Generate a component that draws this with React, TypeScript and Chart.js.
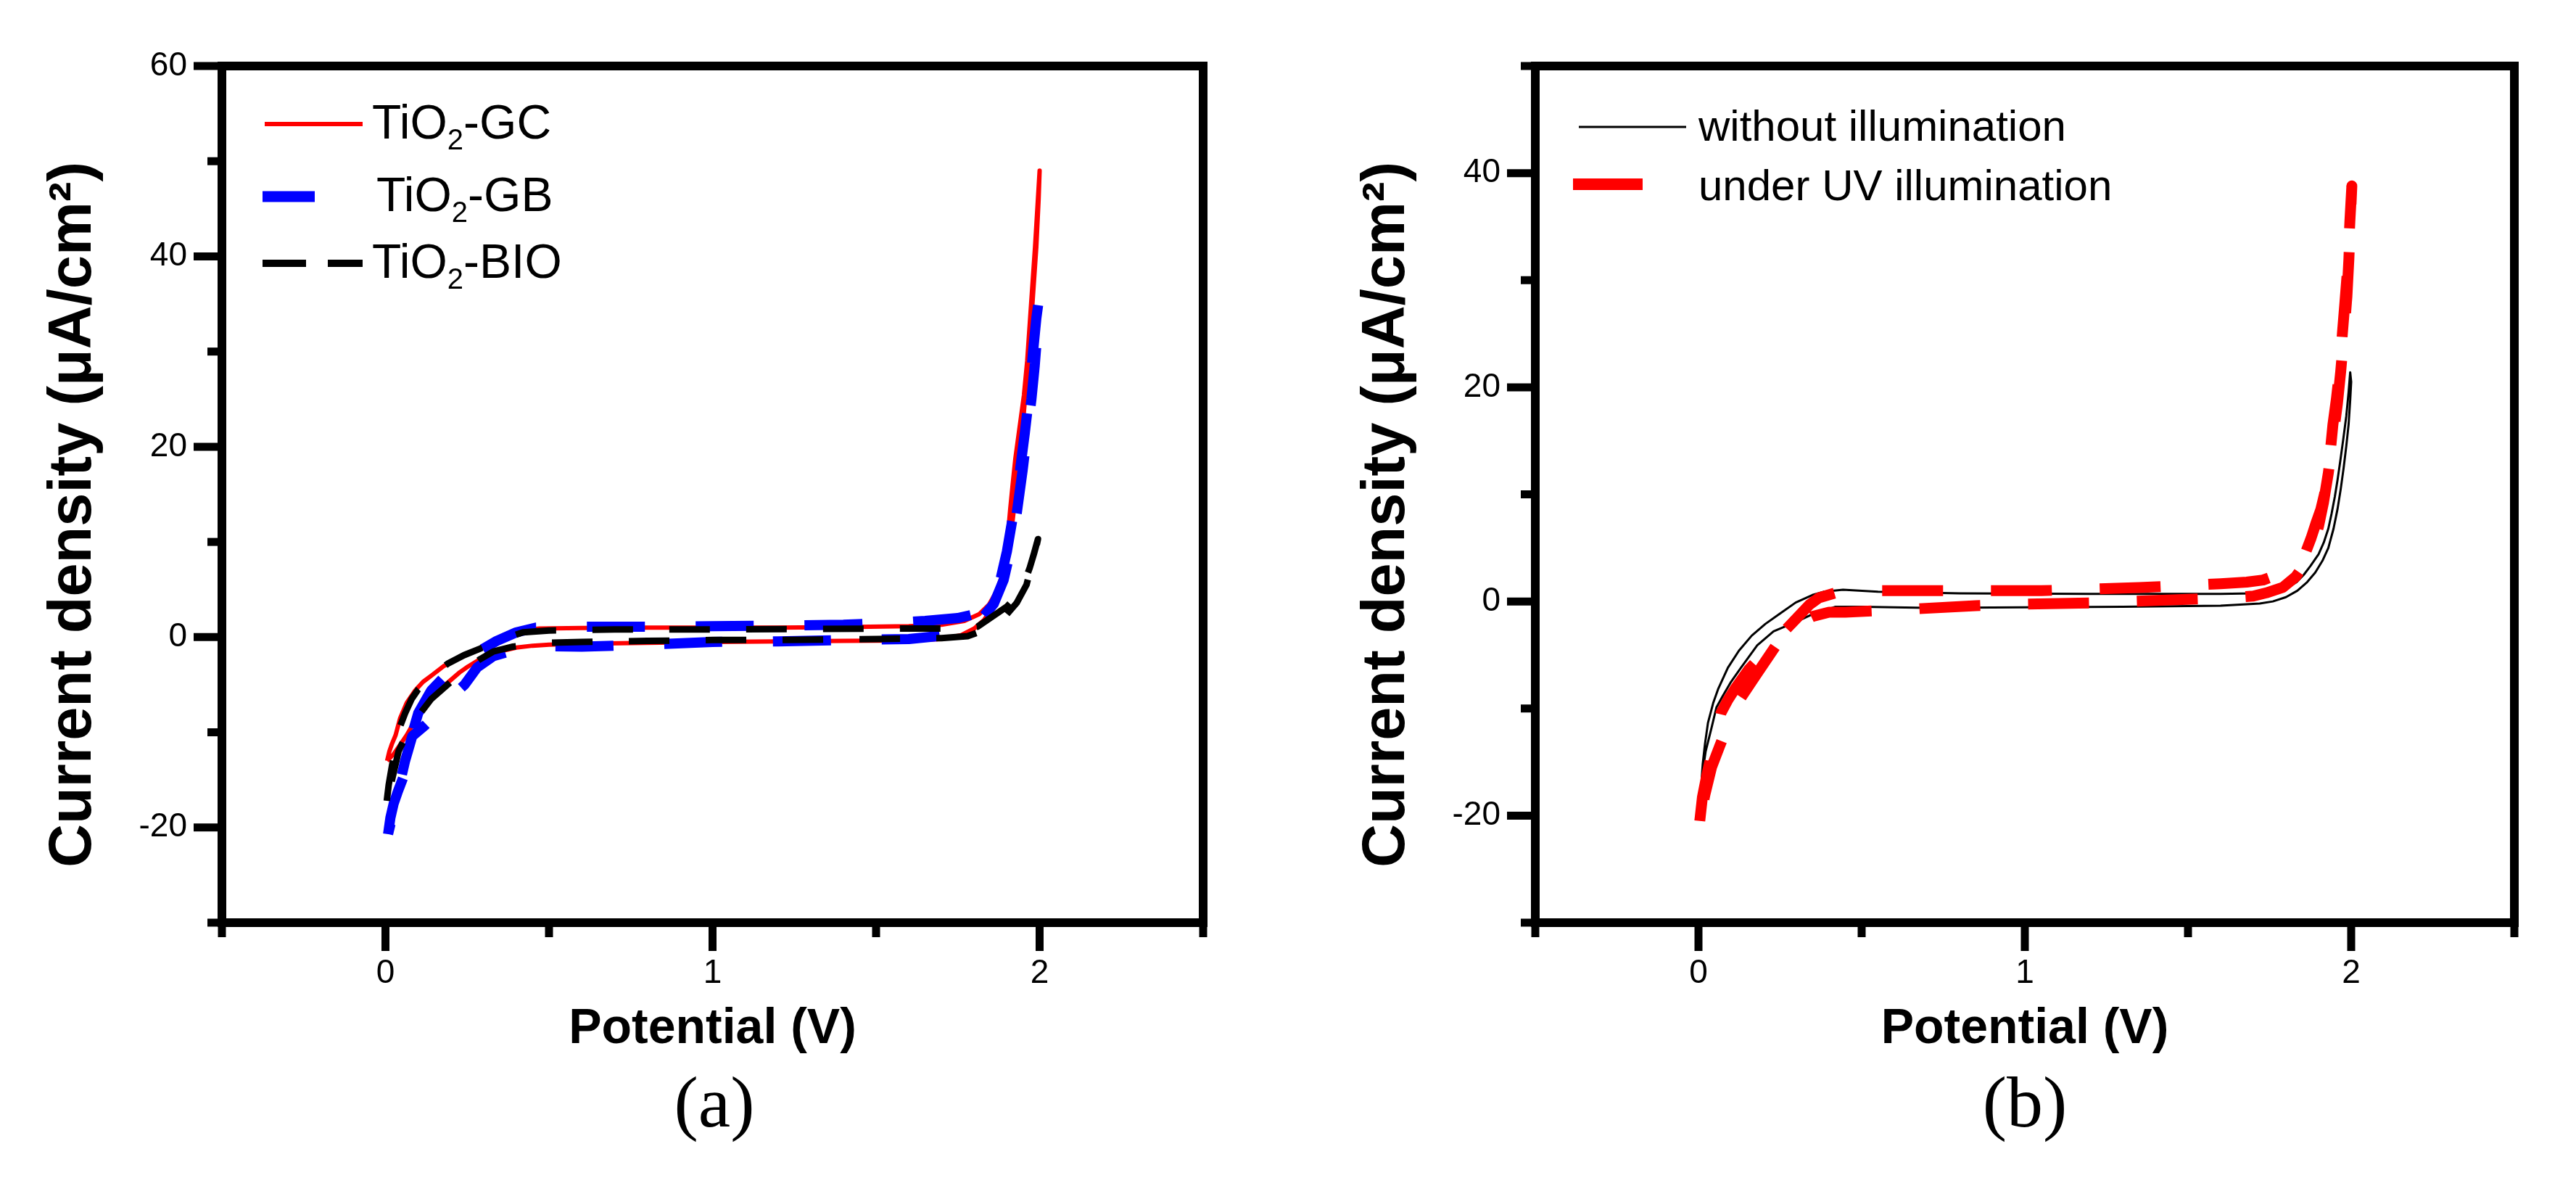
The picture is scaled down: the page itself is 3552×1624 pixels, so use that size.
import React, { useEffect, useRef } from 'react';
import { Chart, registerables } from 'chart.js';

Chart.register(...registerables);

// ---------------- data ----------------
// Panel (a): TiO2-GC (red, solid)
const gcV = [0.005, 0.012, 0.02, 0.031, 0.045, 0.065, 0.091, 0.115, 0.142, 0.18, 0.227, 0.27, 0.31, 0.36, 0.413, 0.47, 0.6, 0.8, 1.0, 1.2, 1.4, 1.6, 1.7, 1.77, 1.815, 1.845, 1.87, 1.888, 1.9, 1.91, 1.918, 1.926, 1.937, 1.952, 1.962, 1.97, 1.978, 1.986, 1.993, 2.0,
  1.997, 1.99, 1.98, 1.97, 1.958, 1.945, 1.93, 1.915, 1.9, 1.88, 1.86, 1.83, 1.8, 1.76, 1.7, 1.6, 1.4, 1.2, 1.0, 0.8, 0.6, 0.5, 0.45, 0.4, 0.35, 0.3, 0.252, 0.227, 0.2, 0.159, 0.13, 0.1, 0.065, 0.045, 0.025, 0.005];
const gcJ = [-13.0, -12.0, -11.2, -10.3, -8.5, -6.9, -5.6, -4.7, -4.0, -3.0, -2.2, -1.5, -0.8, 0.0, 0.7, 0.9, 0.95, 1.0, 1.0, 1.0, 1.05, 1.15, 1.3, 1.7, 2.4, 3.4, 4.9, 6.8, 9.5, 13.4, 16.2, 18.8, 21.6, 25.4, 29.0, 33.0, 37.0, 41.0, 45.0, 49.0,
  46.0, 41.0, 36.0, 31.0, 26.0, 21.0, 16.0, 11.5, 8.0, 5.0, 3.3, 1.8, 0.9, 0.2, -0.2, -0.35, -0.4, -0.45, -0.5, -0.6, -0.7, -0.8, -0.9, -1.1, -1.5, -2.1, -3.1, -3.7, -4.5, -5.7, -6.6, -8.2, -10.3, -11.3, -12.3, -13.0];

// Panel (a): TiO2-GB (blue, dashed)
const gbV = [0.008, 0.015, 0.025, 0.038, 0.057, 0.075, 0.1, 0.14, 0.19, 0.24, 0.29, 0.34, 0.4, 0.46, 0.6, 0.8, 1.0, 1.2, 1.4, 1.55, 1.65, 1.75, 1.8, 1.85, 1.88, 1.9, 1.92, 1.94, 1.955, 1.97, 1.98, 1.99, 1.997,
  1.993, 1.985, 1.975, 1.962, 1.948, 1.93, 1.91, 1.89, 1.86, 1.82, 1.78, 1.72, 1.6, 1.4, 1.2, 1.0, 0.8, 0.6, 0.5, 0.4, 0.33, 0.28, 0.242, 0.21, 0.16, 0.12, 0.082, 0.06, 0.04, 0.02, 0.008];
const gbJ = [-20.7, -19.0, -17.5, -16.2, -14.5, -11.0, -8.0, -5.6, -3.8, -2.5, -1.4, -0.4, 0.5, 1.0, 1.1, 1.1, 1.15, 1.2, 1.3, 1.5, 1.7, 2.0, 2.4, 3.5, 6.0, 9.0, 13.0, 17.5, 21.5, 26.0, 30.0, 33.5, 35.3,
  32.0, 28.5, 25.0, 21.5, 17.5, 13.0, 9.0, 6.0, 3.5, 1.8, 0.8, 0.2, -0.2, -0.3, -0.45, -0.5, -0.8, -1.0, -0.95, -1.3, -2.0, -3.2, -5.0, -6.0, -8.0, -9.3, -10.4, -13.0, -16.0, -19.0, -20.7];

// Panel (a): TiO2-BIO (black, dashed)
const bioV = [0.004, 0.01, 0.02, 0.03, 0.04, 0.06, 0.08, 0.1, 0.15, 0.19, 0.24, 0.29, 0.35, 0.42, 0.5, 0.7, 1.0, 1.3, 1.5, 1.65, 1.75, 1.81, 1.853, 1.9, 1.927, 1.955, 1.97, 1.983, 1.995,
  1.99, 1.975, 1.96, 1.93, 1.9, 1.86, 1.82, 1.78, 1.7, 1.5, 1.2, 1.0, 0.8, 0.6, 0.5, 0.39, 0.33, 0.29, 0.24, 0.19, 0.14, 0.1, 0.07, 0.04, 0.02, 0.004];
const bioJ = [-17.2, -15.5, -13.5, -11.8, -9.8, -8.0, -6.5, -5.5, -3.8, -2.8, -1.9, -1.2, -0.3, 0.5, 0.7, 0.8, 0.8, 0.85, 0.9, 0.9, 0.9, 1.1, 2.1, 3.2, 4.2, 5.9, 7.3, 8.8, 10.3,
  9.5, 7.5, 5.5, 3.6, 2.4, 1.4, 0.6, 0.1, -0.1, -0.2, -0.3, -0.3, -0.4, -0.5, -0.6, -1.0, -1.5, -2.3, -3.5, -5.0, -6.5, -8.3, -9.8, -12.0, -15.0, -17.2];

// Panel (b): without illumination (black, thin solid)
const darkV = [0.01, 0.013, 0.02, 0.029, 0.045, 0.06, 0.09, 0.124, 0.163, 0.205, 0.247, 0.298, 0.349, 0.383, 0.443, 0.55, 0.8, 1.2, 1.6, 1.7, 1.76, 1.8, 1.833, 1.855, 1.875, 1.9, 1.916, 1.93, 1.94, 1.95, 1.958, 1.967, 1.976, 1.985, 1.992, 1.997,
  2.0, 1.997, 1.992, 1.985, 1.977, 1.968, 1.958, 1.946, 1.93, 1.912, 1.89, 1.865, 1.835, 1.8, 1.76, 1.72, 1.6, 1.3, 1.0, 0.7, 0.5, 0.42, 0.38, 0.356, 0.3, 0.23, 0.18, 0.13, 0.1, 0.075, 0.055, 0.04, 0.022, 0.01];
const darkJ = [-16.5, -15.2, -13.3, -11.35, -9.5, -8.2, -6.2, -4.6, -3.2, -2.1, -1.2, -0.1, 0.6, 0.9, 1.1, 0.9, 0.75, 0.7, 0.7, 0.75, 0.9, 1.2, 1.8, 2.5, 3.3, 4.4, 5.5, 6.8, 8.2, 9.8, 11.3, 13.2, 15.2, 17.3, 19.5, 21.4,
  20.5, 18.8, 16.5, 14.5, 12.5, 10.5, 8.6, 6.8, 5.0, 3.8, 2.7, 1.8, 1.0, 0.4, 0.0, -0.2, -0.4, -0.5, -0.55, -0.6, -0.5, -0.5, -0.9, -1.1, -1.9, -2.8, -4.1, -6.2, -7.5, -8.8, -9.9, -11.8, -14.0, -16.5];

// Panel (b): under UV illumination (red, thick dashed)
const uvV = [0.004, 0.012, 0.025, 0.045, 0.069, 0.09, 0.111, 0.153, 0.2, 0.25, 0.3, 0.34, 0.37, 0.42, 0.5, 0.7, 0.9, 1.05, 1.2, 1.35, 1.5, 1.6, 1.68, 1.73, 1.775, 1.82, 1.845, 1.862, 1.877, 1.892, 1.907, 1.918, 1.927, 1.936, 1.944, 1.955, 1.966, 1.973, 1.981, 1.99, 1.996, 2.002,
  1.998, 1.993, 1.987, 1.978, 1.968, 1.958, 1.945, 1.93, 1.915, 1.9, 1.88, 1.86, 1.83, 1.79, 1.74, 1.7, 1.6, 1.45, 1.2, 1.0, 0.85, 0.6, 0.45, 0.4, 0.35, 0.295, 0.24, 0.178, 0.13, 0.09, 0.065, 0.04, 0.02, 0.004];
const uvJ = [-20.5, -18.3, -16.3, -13.5, -10.4, -9.2, -8.2, -6.4, -4.8, -3.2, -1.6, -0.3, 0.35, 0.8, 1.0, 1.0, 1.0, 1.0, 1.15, 1.3, 1.5, 1.65, 1.8, 2.0, 2.5, 3.2, 3.9, 4.7, 5.9, 7.3, 8.6, 10.0, 11.6, 14.0, 16.5, 19.0, 22.0, 25.0, 28.0, 31.5, 35.5, 38.8,
  36.0, 32.0, 28.5, 25.0, 21.5, 18.5, 15.5, 12.0, 9.2, 7.0, 5.0, 3.6, 2.3, 1.3, 0.8, 0.5, 0.3, 0.15, -0.14, -0.25, -0.4, -0.8, -1.0, -1.0, -1.4, -2.2, -4.0, -6.8, -9.0, -11.6, -13.5, -15.5, -18.0, -20.5];

// labels and ticks
const labelsA = ['TiO₂-GC', 'TiO₂-GB', 'TiO₂-BIO'];
const labelsB = ['without illumination', 'under UV illumination'];
const xTitle = 'Potential (V)';
const yTitle = 'Current density (μA/cm²)';
const xMajorTicks = [0, 1, 2];
const yMajorTicksA = [-20, 0, 20, 40, 60];
const yMajorTicksB = [-20, 0, 20, 40];
const xRange = [-0.5, 2.5];
const yRangeA = [-30, 60];
const yRangeB = [-30, 50];

// ---------------- helpers / plugins ----------------
const FONT = "'Liberation Sans', Arial, Helvetica, sans-serif";
const toPts = (v: number[], j: number[]) => v.map((x, i) => ({ x, y: j[i] }));
const near = (arr: number[], v: number) => arr.some((a) => Math.abs(a - v) < 1e-9);

const splitSub = (s: string) => {
  const p = s.split('₂');
  if (p.length === 1) return [s];
  return [p[0], '_2', p[1]];
};

const legendPlugin = {
  id: 'cvLegend',
  afterDraw(chart: any, _args: any, opts: any) {
    if (!opts || !opts.items) return;
    const { ctx, chartArea } = chart;
    ctx.save();
    for (const it of opts.items) {
      ctx.beginPath();
      ctx.setLineDash(it.dash || []);
      ctx.lineDashOffset = 0;
      ctx.lineCap = 'butt';
      ctx.strokeStyle = it.color;
      ctx.lineWidth = it.width;
      ctx.moveTo(chartArea.left + it.x1, chartArea.top + it.y);
      ctx.lineTo(chartArea.left + it.x2, chartArea.top + it.y);
      ctx.stroke();
      ctx.setLineDash([]);
      ctx.fillStyle = '#000';
      ctx.textAlign = 'left';
      ctx.textBaseline = 'alphabetic';
      let x = chartArea.left + it.tx;
      const by = chartArea.top + it.ty;
      for (const part of splitSub(it.text)) {
        const sub = part.startsWith('_');
        const t = sub ? part.slice(1) : part;
        ctx.font = sub ? opts.subFont : opts.font;
        ctx.fillText(t, x, by + (sub ? opts.subShift : 0));
        x += ctx.measureText(t).width;
      }
    }
    ctx.restore();
  },
};

const framePlugin = {
  id: 'cvFrame',
  afterDraw(chart: any, _args: any, opts: any) {
    const { ctx, chartArea, scales } = chart;
    const { left, right, top, bottom } = chartArea;
    const xs = scales.x;
    const ys = scales.y;
    ctx.save();
    ctx.setLineDash([]);
    ctx.strokeStyle = '#000';
    ctx.lineWidth = opts.axisWidth;
    ctx.lineJoin = 'miter';
    ctx.strokeRect(left, top, right - left, bottom - top);
    ctx.lineWidth = opts.tickWidth;
    ctx.lineCap = 'butt';
    const hw = opts.axisWidth / 2;
    xs.ticks.forEach((t: any) => {
      const px = xs.getPixelForValue(t.value);
      const len = near(opts.xMajor, t.value) ? opts.majorLen : opts.minorLen;
      ctx.beginPath();
      ctx.moveTo(px, bottom);
      ctx.lineTo(px, bottom + hw + len);
      ctx.stroke();
    });
    ys.ticks.forEach((t: any) => {
      const py = ys.getPixelForValue(t.value);
      const len = near(opts.yMajor, t.value) ? opts.majorLen : opts.minorLen;
      ctx.beginPath();
      ctx.moveTo(left, py);
      ctx.lineTo(left - hw - len, py);
      ctx.stroke();
    });
    // rotated y-axis title
    ctx.translate(left - opts.yTitleGap, (top + bottom) / 2 + opts.yTitleShift);
    ctx.rotate(-Math.PI / 2);
    ctx.fillStyle = '#000';
    ctx.font = opts.yTitleFont;
    ctx.textAlign = 'center';
    ctx.textBaseline = 'alphabetic';
    ctx.fillText(opts.yTitle, 0, 0);
    ctx.restore();
  },
};

function makeConfig(p: any): any {
  return {
    type: 'scatter',
    data: { datasets: p.datasets },
    plugins: [legendPlugin, framePlugin],
    options: {
      responsive: false,
      maintainAspectRatio: false,
      animation: false,
      devicePixelRatio: 1,
      events: [],
      layout: { padding: p.padding },
      elements: { point: { radius: 0 } },
      plugins: {
        legend: { display: false },
        tooltip: { enabled: false },
        title: { display: false },
        cvLegend: {
          items: p.legendItems,
          font: `${p.legendSize}px ${FONT}`,
          subFont: `${Math.round(p.legendSize * 0.61)}px ${FONT}`,
          subShift: Math.round(p.legendSize * 0.23),
        },
        cvFrame: {
          axisWidth: 12,
          tickWidth: 11,
          majorLen: 33,
          minorLen: 14,
          xMajor: xMajorTicks,
          yMajor: p.yMajor,
          yTitle,
          yTitleFont: `bold 83px ${FONT}`,
          yTitleGap: 181,
          yTitleShift: 28,
        },
      },
      scales: {
        x: {
          type: 'linear',
          position: 'bottom',
          min: xRange[0],
          max: xRange[1],
          afterFit: (s: any) => { s.height = 250; },
          border: { display: false },
          grid: { display: true, drawOnChartArea: false, drawTicks: true, tickLength: 39, color: 'rgba(0,0,0,0)' },
          ticks: {
            stepSize: 0.5,
            autoSkip: false,
            maxRotation: 0,
            minRotation: 0,
            padding: 4,
            color: '#000',
            font: { family: FONT, size: 46 },
            callback: (v: any) => (near(xMajorTicks, Number(v)) ? String(Math.round(Number(v))) : ''),
          },
          title: {
            display: true,
            text: xTitle,
            color: '#000',
            font: { family: FONT, size: 68, weight: 'bold' },
            padding: { top: 0, bottom: 62 },
          },
        },
        y: {
          type: 'linear',
          position: 'left',
          min: p.yRange[0],
          max: p.yRange[1],
          afterFit: (s: any) => { s.width = 306; },
          border: { display: false },
          grid: { display: true, drawOnChartArea: false, drawTicks: true, tickLength: 39, color: 'rgba(0,0,0,0)' },
          ticks: {
            stepSize: 10,
            autoSkip: false,
            padding: 9,
            color: '#000',
            font: { family: FONT, size: 46 },
            callback: (v: any) => (near(p.yMajor, Number(v)) ? String(Math.round(Number(v))) : ''),
          },
          title: { display: false },
        },
      },
    },
  };
}

const lineDs = (label: string, v: number[], j: number[], color: string, width: number, dash: number[]) => ({
  label,
  data: toPts(v, j),
  showLine: true,
  borderColor: color,
  backgroundColor: color,
  borderWidth: width,
  borderDash: dash,
  borderCapStyle: 'butt',
  borderJoinStyle: 'round',
  pointRadius: 0,
  tension: 0,
  fill: false,
});

const RED = '#ff0000';
const BLUE = '#0000ff';
const BLACK = '#000000';

function configA() {
  // drawing order: the last dataset is drawn first (at the bottom)
  const gc = lineDs(labelsA[0], gcV, gcJ, RED, 6, []);
  const gb = lineDs(labelsA[1], gbV, gbJ, BLUE, 14, [80, 70]);
  const bio = lineDs(labelsA[2], bioV, bioJ, BLACK, 9, [56, 50]);
  return makeConfig({
    datasets: [bio, gb, gc],
    padding: { left: 0, top: 91, right: 117, bottom: 102 },
    yRange: yRangeA,
    yMajor: yMajorTicksA,
    legendSize: 66,
    legendItems: [
      { text: labelsA[0], color: RED, width: 6, dash: [], x1: 59, x2: 194, y: 80, tx: 207, ty: 100 },
      { text: labelsA[1], color: BLUE, width: 15, dash: [], x1: 56, x2: 128, y: 180, tx: 213, ty: 200 },
      { text: labelsA[2], color: BLACK, width: 10, dash: [60, 30], x1: 56, x2: 194, y: 272, tx: 207, ty: 292 },
    ],
  });
}

function configB() {
  const dark = lineDs(labelsB[0], darkV, darkJ, BLACK, 3, []);
  const uv = lineDs(labelsB[1], uvV, uvJ, RED, 15, [84, 66]);
  return makeConfig({
    datasets: [uv, dark],
    padding: { left: 35, top: 91, right: 85, bottom: 102 },
    yRange: yRangeB,
    yMajor: yMajorTicksB,
    legendSize: 60,
    legendItems: [
      { text: labelsB[0], color: BLACK, width: 3, dash: [], x1: 60, x2: 208, y: 84, tx: 225, ty: 103 },
      { text: labelsB[1], color: RED, width: 16, dash: [], x1: 52, x2: 148, y: 163, tx: 225, ty: 185 },
    ],
  });
}

export default function App() {
  const refA = useRef<HTMLCanvasElement>(null);
  const refB = useRef<HTMLCanvasElement>(null);

  useEffect(() => {
    const a = new Chart(refA.current as HTMLCanvasElement, configA());
    const b = new Chart(refB.current as HTMLCanvasElement, configB());
    return () => {
      a.destroy();
      b.destroy();
    };
  }, []);

  const capStyle: React.CSSProperties = {
    position: 'absolute',
    top: 1470,
    width: 300,
    textAlign: 'center',
    fontFamily: "'Liberation Serif', 'Times New Roman', serif",
    fontSize: 100,
    lineHeight: '100px',
    color: '#000',
  };

  return (
    <div style={{ position: 'fixed', left: 0, top: 0, width: 3552, height: 1624, background: '#fff', overflow: 'hidden' }}>
      <canvas ref={refA} width={1776} height={1624} style={{ position: 'absolute', left: 0, top: 0, width: 1776, height: 1624 }} />
      <canvas ref={refB} width={1776} height={1624} style={{ position: 'absolute', left: 1776, top: 0, width: 1776, height: 1624 }} />
      <div style={{ ...capStyle, left: 985 - 150 }}>(a)</div>
      <div style={{ ...capStyle, left: 2792 - 150 }}>(b)</div>
    </div>
  );
}
